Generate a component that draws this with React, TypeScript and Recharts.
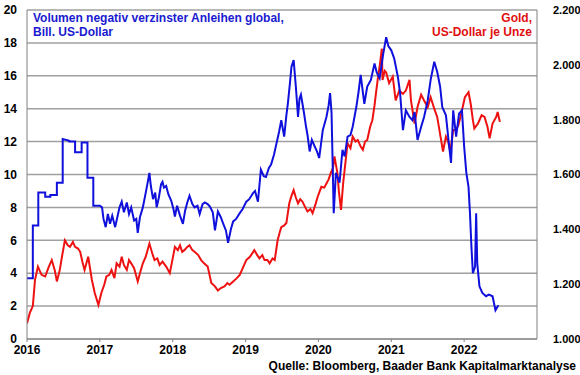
import { LineChart, Line, XAxis, YAxis, CartesianGrid } from 'recharts'

// Volumen negativ verzinster Anleihen (Bill. USD)
const negYears = [
  2016.0, 2016.08, 2016.08, 2016.155, 2016.155, 2016.25, 2016.25, 2016.32, 2016.32, 2016.41,
  2016.41, 2016.49, 2016.49, 2016.58, 2016.58, 2016.66, 2016.66, 2016.75, 2016.75, 2016.83,
  2016.83, 2016.91, 2016.91, 2017.0, 2017.03, 2017.05, 2017.08, 2017.11, 2017.14, 2017.17,
  2017.21, 2017.23, 2017.27, 2017.3, 2017.33, 2017.37, 2017.4, 2017.43, 2017.47, 2017.5,
  2017.52, 2017.55, 2017.59, 2017.63, 2017.66, 2017.68, 2017.7, 2017.73, 2017.76, 2017.78,
  2017.81, 2017.84, 2017.86, 2017.88, 2017.91, 2017.94, 2017.98, 2018.01, 2018.03, 2018.06,
  2018.1, 2018.14, 2018.17, 2018.2, 2018.23, 2018.27, 2018.3, 2018.34, 2018.37, 2018.41,
  2018.44, 2018.48, 2018.51, 2018.55, 2018.58, 2018.62, 2018.66, 2018.69, 2018.73, 2018.76,
  2018.8, 2018.83, 2018.87, 2018.92, 2018.96, 2019.01, 2019.05, 2019.1, 2019.13, 2019.17,
  2019.21, 2019.25, 2019.28, 2019.32, 2019.35, 2019.39, 2019.42, 2019.46, 2019.49, 2019.53,
  2019.56, 2019.58, 2019.61, 2019.63, 2019.66, 2019.69, 2019.72, 2019.74, 2019.76, 2019.8,
  2019.83, 2019.85, 2019.88, 2019.91, 2019.95, 2019.98, 2020.01, 2020.06, 2020.11, 2020.14,
  2020.16, 2020.18, 2020.21, 2020.24, 2020.29, 2020.33, 2020.36, 2020.4, 2020.44, 2020.47,
  2020.52, 2020.55, 2020.58, 2020.63, 2020.67, 2020.72, 2020.77, 2020.8, 2020.84, 2020.89,
  2020.93, 2020.96, 2021.0, 2021.04, 2021.09, 2021.12, 2021.16, 2021.2, 2021.25, 2021.29,
  2021.32, 2021.36, 2021.41, 2021.45, 2021.5, 2021.54, 2021.59, 2021.63, 2021.67, 2021.7,
  2021.75, 2021.79, 2021.82, 2021.85, 2021.89, 2021.93, 2021.97, 2022.0, 2022.03, 2022.06,
  2022.08, 2022.1, 2022.12, 2022.15, 2022.165, 2022.18, 2022.21, 2022.25, 2022.3, 2022.34,
  2022.39, 2022.43, 2022.47,
]
const negVolume = [
  3.7, 3.7, 6.9, 6.9, 8.9, 8.9, 8.65, 8.65, 8.75, 8.75,
  9.5, 9.5, 12.15, 12.05, 12.0, 12.0, 11.35, 11.35, 11.95, 11.95,
  9.8, 9.8, 8.1, 8.1, 8.0, 7.3, 6.8, 7.6, 7.0, 7.5,
  6.8, 7.2, 8.0, 8.35, 7.7, 8.3, 7.6, 8.0, 7.2, 7.3,
  6.45, 7.4, 8.0, 8.9, 9.6, 10.1, 9.3, 8.5, 8.9, 8.0,
  8.6, 9.4, 9.55, 9.2, 9.3, 8.8, 8.4, 7.9, 7.45, 8.1,
  7.5, 7.0, 7.8, 8.3, 8.7, 8.2, 8.0, 8.1, 7.6, 8.2,
  8.3, 8.2, 8.05, 7.7, 6.6, 7.75, 7.4, 7.05, 6.6, 5.85,
  6.7, 7.15, 7.3, 7.65, 7.9, 8.35, 8.5, 8.85, 9.0, 8.35,
  10.3, 9.9, 9.85, 10.4, 10.6, 11.2, 11.8, 12.6, 13.3, 12.3,
  13.6, 14.3, 15.6, 16.55, 16.95, 15.35, 13.5, 14.6, 14.85, 13.8,
  12.9, 12.4, 11.4, 12.1, 11.7, 11.4, 11.0, 12.7, 13.5, 14.2,
  14.95, 13.75, 7.65, 10.1, 9.5, 11.5, 11.1, 12.3, 12.4, 12.9,
  14.1, 15.0, 16.05, 14.3, 15.35, 15.75, 16.75, 16.2, 15.85, 17.35,
  18.35, 17.8, 17.55, 17.05, 15.95, 15.0, 12.7, 13.9, 13.5, 13.3,
  13.8, 12.1, 12.9, 13.5, 14.5, 15.75, 16.85, 16.25, 15.35, 14.1,
  13.6, 11.9, 10.7, 13.9, 12.3, 13.7, 13.9, 11.7, 10.1, 9.25,
  7.65, 5.6, 4.0, 4.4, 7.65, 4.6, 3.2, 2.8, 2.6, 2.7,
  2.6, 1.75, 2.05,
]

// Gold, US-Dollar je Unze
const goldYears = [
  2016.0, 2016.04, 2016.08, 2016.11, 2016.15, 2016.2, 2016.25, 2016.3, 2016.34, 2016.38,
  2016.41, 2016.45, 2016.48, 2016.52, 2016.56, 2016.59, 2016.63, 2016.66, 2016.7, 2016.73,
  2016.76, 2016.79, 2016.84, 2016.89, 2016.93, 2016.98, 2017.02, 2017.06, 2017.09, 2017.13,
  2017.16, 2017.2, 2017.23, 2017.27, 2017.3, 2017.33, 2017.37, 2017.4, 2017.43, 2017.47,
  2017.52, 2017.55, 2017.59, 2017.63, 2017.68, 2017.72, 2017.75, 2017.79, 2017.82, 2017.86,
  2017.91, 2017.96, 2018.0, 2018.03, 2018.07, 2018.1, 2018.13, 2018.16, 2018.2, 2018.23,
  2018.27, 2018.3, 2018.35, 2018.39, 2018.43, 2018.48, 2018.53, 2018.58, 2018.62, 2018.66,
  2018.71, 2018.75, 2018.78, 2018.83, 2018.88, 2018.92, 2018.97, 2019.01, 2019.06, 2019.12,
  2019.16, 2019.19, 2019.23, 2019.26, 2019.3, 2019.33, 2019.37, 2019.4, 2019.44, 2019.47,
  2019.49, 2019.53, 2019.56, 2019.6, 2019.63, 2019.66, 2019.69, 2019.72, 2019.75, 2019.78,
  2019.82, 2019.85, 2019.89, 2019.92, 2019.96, 2019.99, 2020.04, 2020.08, 2020.11, 2020.14,
  2020.17, 2020.2, 2020.22, 2020.24, 2020.26, 2020.28, 2020.31, 2020.34, 2020.36, 2020.4,
  2020.44, 2020.47, 2020.51, 2020.54, 2020.58, 2020.61, 2020.64, 2020.67, 2020.71, 2020.74,
  2020.77, 2020.79, 2020.82, 2020.84, 2020.87, 2020.88, 2020.91, 2020.93, 2020.97, 2021.02,
  2021.06, 2021.11, 2021.16, 2021.2, 2021.25, 2021.27, 2021.32, 2021.36, 2021.41, 2021.45,
  2021.5, 2021.54, 2021.59, 2021.63, 2021.68, 2021.71, 2021.75, 2021.78, 2021.81, 2021.85,
  2021.89, 2021.92, 2021.95, 2022.01, 2022.06, 2022.09, 2022.12, 2022.14, 2022.19, 2022.24,
  2022.28, 2022.32, 2022.35, 2022.39, 2022.44, 2022.46, 2022.49,
]
const goldPrice = [
  1057, 1096, 1120, 1216, 1264, 1234, 1228, 1264, 1288, 1252,
  1210, 1252, 1300, 1360, 1342, 1336, 1354, 1336, 1330, 1318,
  1282, 1252, 1300, 1216, 1168, 1124, 1168, 1198, 1228, 1234,
  1252, 1222, 1276, 1264, 1300, 1270, 1252, 1288, 1276, 1258,
  1210, 1240, 1276, 1300, 1348, 1312, 1288, 1294, 1270, 1282,
  1264, 1240, 1294, 1336, 1324, 1342, 1318, 1324, 1336, 1342,
  1324, 1318, 1306, 1288, 1276, 1264, 1204, 1192, 1177, 1186,
  1192, 1204, 1198, 1210, 1222, 1234, 1264, 1288, 1300, 1324,
  1306, 1294, 1306, 1288, 1288, 1276, 1294, 1288, 1360, 1390,
  1408, 1414, 1423, 1495, 1522, 1543, 1516, 1495, 1510, 1501,
  1480, 1465, 1474, 1459, 1492, 1519, 1555, 1552, 1567, 1582,
  1606, 1624, 1666, 1636, 1606, 1540, 1471, 1570, 1618, 1714,
  1696, 1738, 1720, 1726, 1702, 1690, 1720, 1726, 1774, 1798,
  1852, 1897, 1960, 1993, 2059, 1945, 1978, 1972, 1933, 1957,
  1870, 1906, 1894, 1906, 1945, 1870, 1786, 1846, 1891, 1870,
  1846, 1882, 1840, 1810, 1732, 1684, 1738, 1720, 1684, 1762,
  1762, 1780, 1810, 1882, 1900, 1858, 1798, 1768, 1786, 1816,
  1810, 1774, 1732, 1786, 1810, 1828, 1792,
]

const yearTicks = [2016, 2017, 2018, 2019, 2020, 2021, 2022]
const leftTicks = [0, 2, 4, 6, 8, 10, 12, 14, 16, 18, 20]
const rightTicks = [1000, 1200, 1400, 1600, 1800, 2000, 2200]

const negData = negYears.map((t, i) => ({ t, v: negVolume[i] }))
const goldData = goldYears.map((t, i) => ({ t, v: goldPrice[i] }))

const font = '"Liberation Sans", Arial, sans-serif'
const tickStyle = { fontSize: 12, fontWeight: 700, fill: '#000', fontFamily: font }
const rightTickStyle = { ...tickStyle, fontSize: 11 }

export default function App() {
  return (
    <div
      style={{
        position: 'absolute',
        left: 0,
        top: 0,
        width: 580,
        height: 375,
        background: '#fff',
        fontFamily: font,
      }}
    >
      <LineChart
        width={580}
        height={375}
        margin={{ top: 10, right: 0, bottom: 16, left: 0 }}
      >
        <CartesianGrid
          yAxisId="l"
          vertical={false}
          stroke="#a0a0a0"
          strokeWidth={1.5}
        />
        <XAxis
          dataKey="t"
          type="number"
          domain={[2016, 2023]}
          ticks={yearTicks}
          allowDataOverflow
          height={20}
          tick={tickStyle}
          tickSize={3}
          tickMargin={3}
          stroke="#808080"
        />
        <YAxis
          yAxisId="l"
          domain={[0, 20]}
          ticks={leftTicks}
          width={27}
          tick={tickStyle}
          tickLine={false}
          tickMargin={4}
          stroke="#808080"
        />
        <YAxis
          yAxisId="r"
          orientation="right"
          domain={[1000, 2200]}
          ticks={rightTicks}
          width={43}
          tick={rightTickStyle}
          tickLine={false}
          tickMargin={10}
          stroke="#808080"
          tickFormatter={(v: number) => (v / 1000).toFixed(3)}
        />
        <Line
          yAxisId="r"
          data={goldData}
          dataKey="v"
          type="linear"
          stroke="#ee1111"
          strokeWidth={2}
          dot={false}
          isAnimationActive={false}
        />
        <Line
          yAxisId="l"
          data={negData}
          dataKey="v"
          type="linear"
          stroke="#1010dd"
          strokeWidth={2}
          dot={false}
          isAnimationActive={false}
        />
      </LineChart>
      <div
        style={{
          position: 'absolute',
          left: 33,
          top: 11,
          fontSize: 12,
          fontWeight: 700,
          lineHeight: '14px',
          color: '#1a1ad0',
        }}
      >
        Volumen negativ verzinster Anleihen global,
        <br />
        Bill. US-Dollar
      </div>
      <div
        style={{
          position: 'absolute',
          right: 48,
          top: 11,
          fontSize: 12,
          fontWeight: 700,
          lineHeight: '14px',
          color: '#e01010',
          textAlign: 'right',
        }}
      >
        Gold,
        <br />
        US-Dollar je Unze
      </div>
      <div
        style={{
          position: 'absolute',
          right: 4,
          top: 359,
          fontSize: 12,
          fontWeight: 700,
          lineHeight: '14px',
          color: '#000',
        }}
      >
        Quelle: Bloomberg, Baader Bank Kapitalmarktanalyse
      </div>
    </div>
  )
}
